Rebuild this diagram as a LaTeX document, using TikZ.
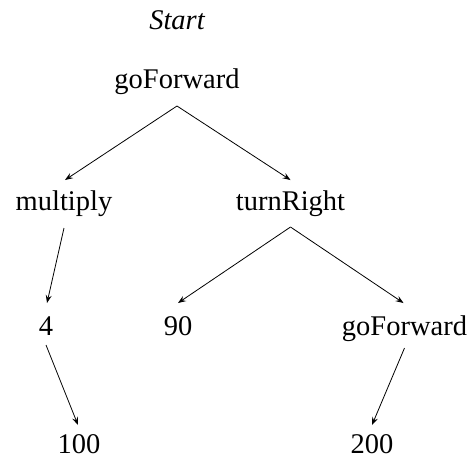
\documentclass[tikz,border=0pt]{standalone}
\usepackage{fontspec}
\setmainfont{Liberation Serif}
\usetikzlibrary{arrows.meta}
\begin{document}
\begin{tikzpicture}[x=1pt,y=-1pt,
  lbl/.style={anchor=base,inner sep=0pt,font=\fontsize{28.5}{34}\selectfont},
  edge/.style={line width=0.8pt,-{Stealth[length=8pt,width=6pt,inset=3pt]}}]
\useasboundingbox (0,0) rectangle (468,459);
\node[lbl,font=\fontsize{28.5}{34}\selectfont\itshape] (start) at (177,29) {Start};
\node[lbl] (g1) at (177,88) {goForward};
\node[lbl] (mul) at (64,210) {multiply};
\node[lbl] (tr) at (290.5,210) {turnRight};
\node[lbl] (four) at (46,335) {4};
\node[lbl] (ninety) at (178,335) {90};
\node[lbl] (g2) at (404.5,335) {goForward};
\node[lbl] (hund) at (79,453) {100};
\node[lbl] (twoh) at (372,453) {200};
\draw[edge] ([yshift=-18pt]g1.base) -- ([xshift=1pt,yshift=30pt]mul.base);
\draw[edge] ([yshift=-18pt]g1.base) -- ([yshift=30pt]tr.base);
\draw[edge] ([yshift=-18pt]mul.base) -- ([xshift=1pt,yshift=32pt]four.base);
\draw[edge] ([yshift=-17pt]tr.base) -- ([yshift=32pt]ninety.base);
\draw[edge] ([yshift=-17pt]tr.base) -- ([xshift=-1pt,yshift=32pt]g2.base);
\draw[edge] ([yshift=-10pt]four.base) -- ([xshift=-1pt,yshift=28pt]hund.base);
\draw[edge] ([yshift=-13pt]g2.base) -- ([yshift=28pt]twoh.base);
\end{tikzpicture}
\end{document}
